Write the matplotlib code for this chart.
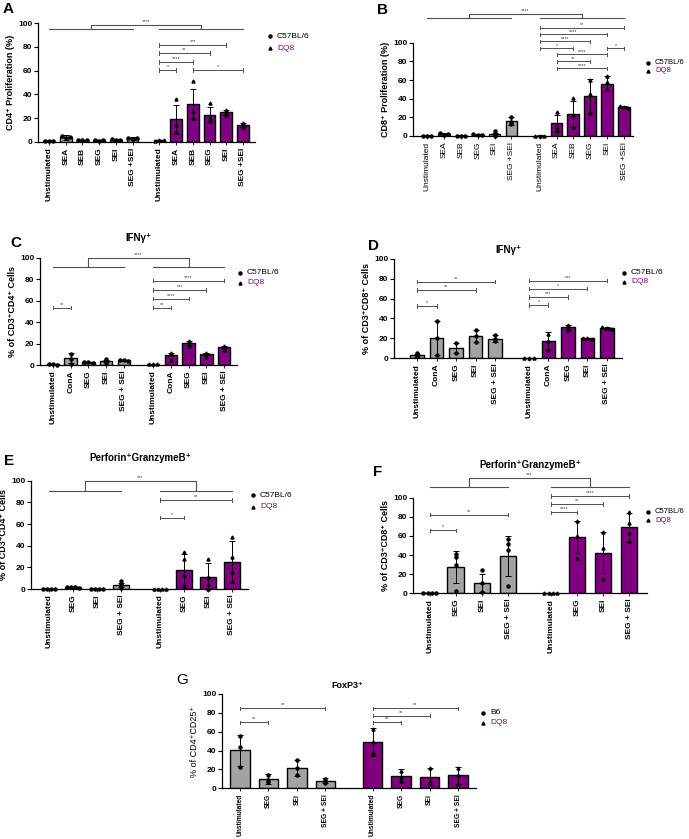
import matplotlib
matplotlib.use("Agg")
import numpy as np
import matplotlib.pyplot as plt
from matplotlib.lines import Line2D

plt.rcParams["font.family"] = ["Liberation Sans", "DejaVu Sans"]
plt.rcParams["font.weight"] = "bold"
plt.rcParams["axes.linewidth"] = 0.9

GREY = "#a3a3a3"
PURPLE = "#800080"
W, H = 689, 839

# ---- data ----
prolif_labels = ["Unstimulated", "SEA", "SEB", "SEG", "SEI", "SEG +SEI"]
ifn_labels = ["Unstimulated", "ConA", "SEG", "SEI", "SEG + SEI"]
stim_labels = ["Unstimulated", "SEG", "SEI", "SEG + SEI"]

# A: CD4 proliferation
A_c57_mean = [1, 4, 1.5, 1.5, 2, 3]
A_c57_sd = [0.5, 2, 0.5, 0.5, 0.8, 1.2]
A_c57_pts = [[1, 1, 1.2], [5, 3, 4], [1.5, 1.5, 1.5], [1.5, 1.2, 1.8], [2.5, 1.5, 2], [3.5, 2.5, 3]]
A_dq8_mean = [1.5, 19, 32, 23, 25, 14.5]
A_dq8_sd = [0.5, 12, 12.5, 6, 2, 1.5]
A_dq8_pts = [[1, 1.5, 2], [36, 14, 8], [51, 26, 20], [33, 20, 18], [27, 24, 23], [16, 14, 13]]

# B: CD8 proliferation
B_c57_mean = [0.5, 2, 0.5, 1.5, 2, 16]
B_c57_sd = [0.2, 1.5, 0.2, 0.5, 1.5, 4]
B_c57_pts = [[0.5, 0.5, 0.5], [3, 1, 2], [0.5, 0.5, 0.5], [2, 1, 1.5], [5, 0.5, 1], [20, 15, 13]]
B_dq8_mean = [0.5, 14, 24, 43, 56, 31]
B_dq8_sd = [0.2, 9, 14, 18, 8, 1]
B_dq8_pts = [[0.5, 0.5, 0.5], [26, 10, 5], [41, 22, 10], [60, 45, 25], [64, 58, 50], [32, 31, 30]]

# C: IFNy+ CD4
C_c57_mean = [0.5, 6.5, 2.5, 3.5, 4.5]
C_c57_sd = [0.5, 4.5, 0.5, 1, 0.5]
C_c57_pts = [[1, 0.5, 0.3], [6, 1, 10], [3, 2.5, 2], [6, 2, 3], [5, 4.5, 4]]
C_dq8_mean = [0.5, 9.5, 20.5, 10, 16.5]
C_dq8_sd = [0.3, 1.5, 1.5, 1, 1.5]
C_dq8_pts = [[0.5, 0.5, 0.5], [11, 10, 5], [22, 20, 18], [11, 10, 7], [18, 16, 14]]

# D: IFNy+ CD8
D_c57_mean = [3, 20, 10, 22.5, 19.5]
D_c57_sd = [1.5, 17, 5, 6, 3.5]
D_c57_pts = [[4, 2, 3, 5], [20, 3, 37], [15, 5], [28, 22, 16], [23, 19, 17]]
D_dq8_mean = [0.5, 17.5, 31, 20, 30]
D_dq8_sd = [0.2, 8.5, 2.5, 0.5, 1.5]
D_dq8_pts = [[0.5, 0.5, 0.5], [24, 17, 8], [33, 30, 28], [20.5, 20, 19.5], [31, 30, 29]]

# E: Perforin+GranzymeB+ CD4
E_c57_mean = [0, 1.5, 0, 4]
E_c57_sd = [0, 0.5, 0, 2]
E_c57_pts = [[0, 0, 0, 0], [2, 2, 1.5, 1], [0, 0, 0, 0], [7, 5, 3, 1]]
E_dq8_mean = [0, 18, 11, 25]
E_dq8_sd = [0, 14, 13, 19]
E_dq8_pts = [[0, 0, 0, 0], [34, 28, 13, 3], [28, 11, 5, 0], [48, 30, 16, 7]]

# F: Perforin+GranzymeB+ CD8
F_c57_mean = [0, 27.5, 11, 39]
F_c57_sd = [0, 16.5, 9.5, 21]
F_c57_pts = [[0, 0, 0, 0], [41, 38, 30, 2], [24, 11, 1], [57, 52, 45, 8]]
F_dq8_mean = [0, 59, 42.5, 69]
F_dq8_sd = [0, 17, 21.5, 15]
F_dq8_pts = [[0, 0, 0, 0], [76, 60, 37], [64, 47, 15], [85, 74, 63, 55]]

# G: FoxP3+
G_b6_mean = [40.5, 10, 22, 8]
G_b6_sd = [16.5, 5, 8.5, 2.5]
G_b6_pts = [[55, 44, 23], [14, 9, 7], [30, 22, 14], [10, 8, 6]]
G_dq8_mean = [49, 13.5, 12.5, 14]
G_dq8_sd = [15, 6.5, 9.5, 9]
G_dq8_pts = [[63, 49, 37], [18, 12, 8], [21, 8, 6], [22, 14, 5]]

# significance brackets: (bar i, bar j, y, stars); bars numbered across both groups
A_sig = [(6, 7, 60.5, "*"), (6, 8, 67.5, "****"), (6, 9, 74.5, "**"), (6, 10, 81.5, "***"),
         (8, 11, 60.5, "*")]
B_sig = [(6, 11, 116, "**"), (6, 10, 109, "****"), (6, 9, 101.5, "****"), (6, 8, 94, "*"),
         (10, 11, 94, "*"), (7, 10, 87.5, "****"), (7, 9, 80, "**"), (7, 10, 72.5, "****")]
C_sig = [(0, 1, 53.4, "**"), (5, 6, 53.4, "**"), (5, 7, 61.8, "****"), (5, 8, 70, "***"),
         (5, 9, 78.5, "****")]
D_sig = [(0, 1, 52.5, "*"), (0, 3, 68.6, "**"), (0, 4, 77, "**"),
         (5, 6, 53.5, "*"), (5, 7, 61.5, "***"), (5, 8, 70, "*"), (5, 9, 78, "***")]
E_sig = [(4, 7, 82, "**"), (4, 5, 65.8, "*")]
F_sig = [(0, 1, 66, "*"), (0, 3, 82, "**"), (4, 5, 85, "****"), (4, 6, 93.4, "**"),
         (4, 7, 101.8, "****")]
G_sig = [(0, 1, 70, "**"), (0, 3, 85, "**"), (4, 5, 70, "**"), (4, 6, 77, "**"), (4, 7, 85, "**")]


fig = plt.figure(figsize=(W / 100, H / 100), dpi=100)


def add_ax(left, top, right, bottom):
    return fig.add_axes([left / W, 1 - bottom / H, (right - left) / W, (bottom - top) / H])


def fig_text(x, y, s, **kw):
    fig.text(x / W, 1 - y / H, s, **kw)


def legend(x, y1, y2, name1="C57BL/6", size=6):
    for y, mk, txt, col in [(y1, "o", name1, "black"), (y2, "^", "DQ8", PURPLE)]:
        fig.add_artist(Line2D([x / W], [1 - y / H], marker=mk, color="black", ms=2.2,
                              transform=fig.transFigure))
        fig_text(x + 7, y, txt, color=col, fontsize=size, fontweight="normal", va="center")


def bracket(ax, xa, xb, y, txt):
    kw = dict(color="#505050", lw=0.7, clip_on=False)
    ax.plot([xa, xb], [y, y], **kw)
    ax.plot([xa, xa], [y - 1.6, y + 1.6], **kw)
    ax.plot([xb, xb], [y - 1.6, y + 1.6], **kw)
    ax.text((xa + xb) / 2, y + 0.8, txt, fontsize=4, ha="center", va="bottom",
            color="#404040", fontweight="normal")


def panel(ax, labels, gap, xlim, g1, g2, sig, top=None, width=0.7, ylabel="", xsize=6):
    n = len(labels)
    x1 = np.arange(n)
    x2 = np.arange(n) + gap
    xs = list(x1) + list(x2)
    for xx, (mean, sd, pts), col, mk in [(x1, g1, GREY, "o"), (x2, g2, PURPLE, "^")]:
        ax.bar(xx, mean, width=width, color=col, edgecolor="black", linewidth=1.0, zorder=2)
        ax.errorbar(xx, mean, yerr=sd, fmt="none", ecolor="black", elinewidth=0.7,
                    capsize=2.5, capthick=0.7, zorder=3)
        for xc, p in zip(xx, pts):
            p = np.array(p, dtype=float)
            if p.max() - p.min() < 3:
                off = np.linspace(-0.25, 0.25, len(p))
            else:
                off = np.zeros(len(p))
            ax.plot(xc + off, p, linestyle="none", marker=mk, color="black", ms=2.2,
                    zorder=4, clip_on=False)
    for i, j, y, txt in sig:
        bracket(ax, xs[i], xs[j], y, txt)
    if top is not None:
        yl, yt, txt = top
        kw = dict(color="#505050", lw=0.8, clip_on=False)
        ax.plot([x1[0], x1[-1]], [yl, yl], **kw)
        ax.plot([x2[0], x2[-1]], [yl, yl], **kw)
        c1, c2 = x1.mean(), x2.mean()
        ax.plot([c1, c1, c2, c2], [yl, yt, yt, yl], **kw)
        ax.text((c1 + c2) / 2, yt + 1, txt, fontsize=4, ha="center", va="bottom",
                color="#404040", fontweight="normal")
    ax.set_xlim(*xlim)
    ax.set_ylim(0, 100)
    ax.set_yticks([0, 20, 40, 60, 80, 100])
    ax.set_xticks(xs)
    ax.set_xticklabels(labels + labels, rotation=90, fontsize=xsize, fontweight="bold")
    ax.tick_params(axis="y", length=3, width=0.8, labelsize=6, pad=1)
    ax.tick_params(axis="x", length=2, width=0.6, pad=2)
    ax.spines["top"].set_visible(False)
    ax.spines["right"].set_visible(False)
    ax.set_ylabel(ylabel, fontsize=6.5, fontweight="bold", labelpad=2)


# ---- A ----
axA = add_ax(38, 23, 255, 142)
panel(axA, prolif_labels, 6.6, (-0.66, 12.32),
      (A_c57_mean, A_c57_sd, A_c57_pts), (A_dq8_mean, A_dq8_sd, A_dq8_pts),
      A_sig, top=(95, 98.5, "****"), ylabel="CD4⁺ Proliferation (%)")
legend(270, 36, 48)
fig_text(3, 9, "A", fontsize=11, fontweight="bold", va="center")

# ---- B ----
axB = add_ax(413, 42.7, 633, 136)
panel(axB, prolif_labels, 6.67, (-0.83, 12.2),
      (B_c57_mean, B_c57_sd, B_c57_pts), (B_dq8_mean, B_dq8_sd, B_dq8_pts),
      B_sig, top=(126, 131, "****"), ylabel="CD8⁺ Proliferation (%)")
for t in axB.get_xticklabels():
    t.set_fontweight("normal")
legend(648, 63, 71, size=5.5)
fig_text(377, 10, "B", fontsize=11, fontweight="bold", va="center")

# ---- C ----
axC = add_ax(40, 257.7, 237, 365)
panel(axC, ifn_labels, 5.64, (-0.73, 10.37),
      (C_c57_mean, C_c57_sd, C_c57_pts), (C_dq8_mean, C_dq8_sd, C_dq8_pts),
      C_sig, top=(91, 100, "****"), ylabel="% of CD3⁺CD4⁺ Cells")
axC.set_title("IFNγ⁺", fontsize=7, fontweight="bold", pad=12)
legend(240, 272.7, 282.7)
fig_text(10, 243, "C", fontsize=11, fontweight="bold", va="center")

# ---- D ----
axD = add_ax(394, 258.7, 622, 358.3)
panel(axD, ifn_labels, 5.74, (-1.18, 10.51),
      (D_c57_mean, D_c57_sd, D_c57_pts), (D_dq8_mean, D_dq8_sd, D_dq8_pts),
      D_sig, ylabel="% of CD3⁺CD8⁺ Cells")
axD.set_title("IFNγ⁺", fontsize=7, fontweight="bold", pad=4)
legend(624, 272.7, 281.7)
fig_text(368, 246, "D", fontsize=11, fontweight="bold", va="center")

# ---- E ----
axE = add_ax(31, 480.7, 248, 589)
panel(axE, stim_labels, 4.62, (-0.75, 8.29),
      (E_c57_mean, E_c57_sd, E_c57_pts), (E_dq8_mean, E_dq8_sd, E_dq8_pts),
      E_sig, top=(90.8, 100, "***"), width=0.65, ylabel="% of CD3⁺CD4⁺ Cells")
fig_text(140, 458, "Perforin⁺GranzymeB⁺", fontsize=7, fontweight="bold", ha="center", va="center")
legend(253, 495.3, 506.7)
fig_text(4, 461, "E", fontsize=11, fontweight="bold", va="center")

# ---- F ----
axF = add_ax(413, 497.7, 647, 593.3)
panel(axF, stim_labels, 4.65, (-0.65, 8.34),
      (F_c57_mean, F_c57_sd, F_c57_pts), (F_dq8_mean, F_dq8_sd, F_dq8_pts),
      F_sig, top=(111, 121, "***"), width=0.65, ylabel="% of CD3⁺CD8⁺ Cells")
fig_text(530, 465, "Perforin⁺GranzymeB⁺", fontsize=7, fontweight="bold", ha="center", va="center")
legend(648, 511.7, 520.3, size=5.5)
fig_text(373, 472, "F", fontsize=11, fontweight="bold", va="center")

# ---- G ----
axG = add_ax(222, 694, 476, 788.3)
panel(axG, stim_labels, 4.65, (-0.63, 8.28),
      (G_b6_mean, G_b6_sd, G_b6_pts), (G_dq8_mean, G_dq8_sd, G_dq8_pts),
      G_sig, width=0.67, ylabel="% of CD4⁺CD25⁺", xsize=4.8)
axG.yaxis.label.set_fontweight("normal")
fig_text(347, 685, "FoxP3⁺", fontsize=6.5, fontweight="bold", ha="center", va="center")
legend(483, 713, 722.7, name1="B6")
fig_text(176, 680, "G", fontsize=11, fontweight="normal", va="center")

fig.savefig("out.png", dpi=100)
